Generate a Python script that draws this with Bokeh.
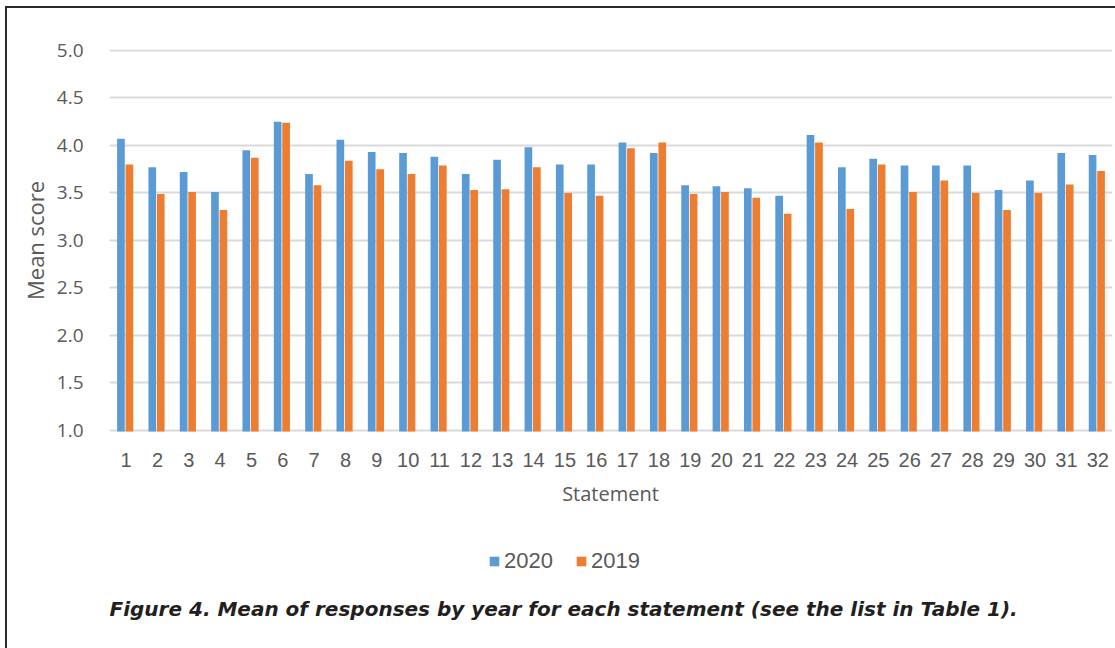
from bokeh.plotting import figure
from bokeh.models import (ColumnDataSource, FactorRange, Range1d, Legend, LegendItem,
                          Label, FixedTicker, CustomJSTickFormatter)
from bokeh.core.properties import value
from bokeh.transform import dodge
from bokeh.embed import file_html
from bokeh.resources import INLINE

statements = [str(i) for i in range(1, 33)]
mean_2020 = [4.07, 3.77, 3.72, 3.51, 3.95, 4.25, 3.70, 4.06, 3.93, 3.92, 3.88, 3.70,
             3.85, 3.98, 3.80, 3.80, 4.03, 3.92, 3.58, 3.57, 3.55, 3.47, 4.11, 3.77,
             3.86, 3.79, 3.79, 3.79, 3.53, 3.63, 3.92, 3.90]
mean_2019 = [3.80, 3.49, 3.51, 3.32, 3.87, 4.24, 3.58, 3.84, 3.75, 3.70, 3.79, 3.53,
             3.54, 3.77, 3.50, 3.47, 3.97, 4.03, 3.49, 3.51, 3.45, 3.28, 4.03, 3.33,
             3.80, 3.51, 3.63, 3.50, 3.32, 3.50, 3.59, 3.73]
y_ticks = [1.0, 1.5, 2.0, 2.5, 3.0, 3.5, 4.0, 4.5, 5.0]
caption_text = "Figure 4. Mean of responses by year for each statement (see the list in Table 1)."

BLUE = "#5b9bd5"
ORANGE = "#ed7d31"
GREY_TXT = "#595959"

y_base = y_ticks[0] - 0.01
src = ColumnDataSource(dict(stmt=statements, y2020=mean_2020, y2019=mean_2019,
                            base=[y_ticks[0]] * len(statements)))

# The plot frame is extended down to the bottom of the canvas so that the legend and
# the caption (drawn inside it) are not clipped; the category labels are drawn as text.
p = figure(x_range=FactorRange(factors=statements, range_padding=0),
           y_range=Range1d(-1.295, 5.01),
           x_axis_location=None,
           frame_width=1003, frame_height=599,
           min_border_left=102, min_border_right=3, min_border_top=41, min_border_bottom=0,
           output_backend="svg", toolbar_location=None)
p.styles = {"margin-left": "5px", "margin-top": "6px",
            "border-left": "2px solid #2b2b2b", "border-top": "2px solid #2b2b2b"}

r1 = p.vbar(x=dodge("stmt", -0.135, range=p.x_range), top="y2020", bottom=y_base, width=0.245,
            source=src, fill_color=BLUE, line_color=None)
r2 = p.vbar(x=dodge("stmt", 0.135, range=p.x_range), top="y2019", bottom=y_base, width=0.245,
            source=src, fill_color=ORANGE, line_color=None)

# category tick labels
p.text(x=dodge("stmt", 0.03, range=p.x_range), y="base", text="stmt", source=src,
       y_offset=30, text_align="center", text_baseline="middle",
       text_font=value("Liberation Sans"), text_font_size="20px", text_color=GREY_TXT)

p.outline_line_color = None
p.background_fill_color = "white"
p.border_fill_color = "white"

p.xgrid.grid_line_color = None
p.ygrid.grid_line_color = "#d9d9d9"
p.ygrid.grid_line_width = 2
p.yaxis.ticker = FixedTicker(ticks=y_ticks)
p.yaxis.formatter = CustomJSTickFormatter(code="return tick.toFixed(1);")
p.yaxis.axis_line_color = None
p.yaxis.major_tick_line_color = None
p.yaxis.minor_tick_line_color = None
p.yaxis.major_label_text_color = GREY_TXT
p.yaxis.major_label_text_font = "Open Sans"
p.yaxis.major_label_text_font_size = "19px"
p.yaxis.major_label_standoff = 20
# leading non-breaking spaces lift the centred title to the middle of the 1.0-5.0 span
p.yaxis.axis_label = "\u00a0" * 38 + "Mean score"
p.yaxis.axis_label_text_color = GREY_TXT
p.yaxis.axis_label_text_font_style = "normal"
p.yaxis.axis_label_text_font = "Open Sans"
p.yaxis.axis_label_text_font_size = "22px"
p.yaxis.axis_label_standoff = 4

# x-axis title
p.add_layout(Label(x=501, y=155, x_units="screen", y_units="screen", text="Statement",
                   text_align="center", text_baseline="middle",
                   text_font="Open Sans", text_font_size="20px", text_color=GREY_TXT))

legend = Legend(items=[LegendItem(label="2020", renderers=[r1]),
                       LegendItem(label="2019", renderers=[r2])],
                location=(379, 74), orientation="horizontal",
                padding=0, margin=0, spacing=22,
                glyph_width=12, glyph_height=12, label_standoff=4,
                label_text_font="Liberation Sans", label_text_font_size="22px",
                label_text_color=GREY_TXT, label_height=24,
                border_line_color=None, background_fill_alpha=0)
p.add_layout(legend, "center")

p.add_layout(Label(x=0, y=40, x_units="screen", y_units="screen", text=caption_text,
                   text_align="left", text_baseline="middle",
                   text_font="DejaVu Sans", text_font_style="bold italic", text_font_size="20px",
                   text_color="#231f20"))

open("out.html", "w").write(file_html(p, INLINE))
